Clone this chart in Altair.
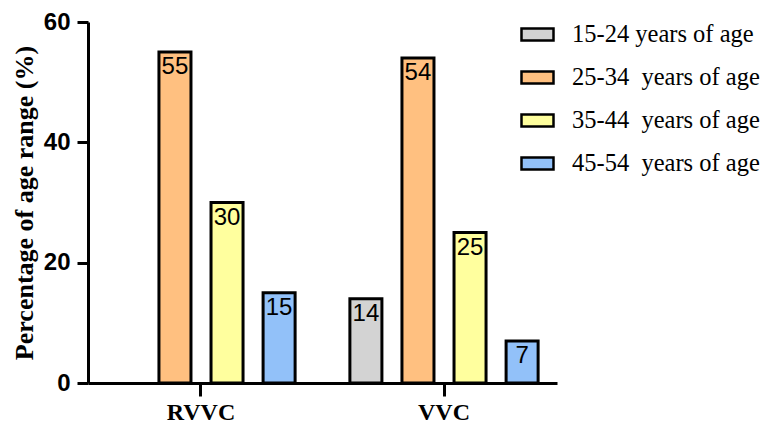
import altair as alt
import pandas as pd

groups = ["RVVC", "VVC"]
ages = ["15-24 years of age", "25-34\u00a0 years of age", "35-44\u00a0 years of age", "45-54\u00a0 years of age"]
colors = ["#D3D3D3", "#FFC080", "#FFFF9E", "#92C1F9"]
rvvc_values = [0, 55, 30, 15]
vvc_values = [14, 54, 25, 7]

rows = []
for g, vals in zip(groups, [rvvc_values, vvc_values]):
    for a, v in zip(ages, vals):
        if v > 0:
            rows.append({"group": g, "age": a, "value": v})
df = pd.DataFrame(rows)

x = alt.X("group:N", sort=groups,
          scale=alt.Scale(domain=groups, paddingInner=0.144, paddingOuter=0.037),
          axis=alt.Axis(title=None, labelAngle=0, labelFont="Liberation Serif",
                        labelFontWeight="bold", labelFontSize=24, labelColor="black",
                        domainColor="black", domainWidth=3, tickColor="black",
                        tickWidth=3, tickSize=13, labelPadding=4))
xo = alt.XOffset("age:N", sort=ages,
                 scale=alt.Scale(domain=ages, paddingInner=0.385, paddingOuter=0.19))
y = alt.Y("value:Q",
          scale=alt.Scale(domain=[0, 60], nice=False),
          axis=alt.Axis(title="Percentage of age range (%)", values=[0, 20, 40, 60],
                        titleFont="Liberation Serif", titleFontWeight="bold",
                        titleFontSize=26, titleColor="black", titlePadding=6,
                        labelFont="Liberation Sans", labelFontWeight="bold",
                        labelFontSize=24, labelColor="black",
                        domainColor="black", domainWidth=3, tickColor="black",
                        tickWidth=3, tickSize=11, labelPadding=7, grid=False))

color = alt.Color("age:N", sort=ages,
                  scale=alt.Scale(domain=ages, range=colors),
                  legend=alt.Legend(title=None, orient="none", legendX=432, legendY=-5,
                                    symbolType="M-1,-0.375H1V0.375H-1Z", symbolSize=1024,
                                    symbolStrokeColor="black", symbolStrokeWidth=2.5,
                                    symbolOpacity=1,
                                    labelFont="Liberation Serif", labelFontSize=24.5,
                                    labelColor="black", labelOffset=17,
                                    rowPadding=14, labelLimit=300))

bars = alt.Chart(df).mark_bar(stroke="black", strokeWidth=3, opacity=1).encode(
    x=x, xOffset=xo, y=y, color=color)

labels = alt.Chart(df).mark_text(baseline="top", dy=3, font="Liberation Sans",
                                  fontSize=24, color="black").encode(
    x=x, xOffset=xo, y=y, text="value:Q")

chart = alt.layer(bars, labels).properties(
    width=469, height=361,
    padding={"left": 80, "top": 14, "right": 208, "bottom": 40},
    autosize=alt.AutoSizeParams(type="none"),
).configure_view(stroke=None)

chart.save("out.html", embed_options={"renderer": "svg", "actions": False})
